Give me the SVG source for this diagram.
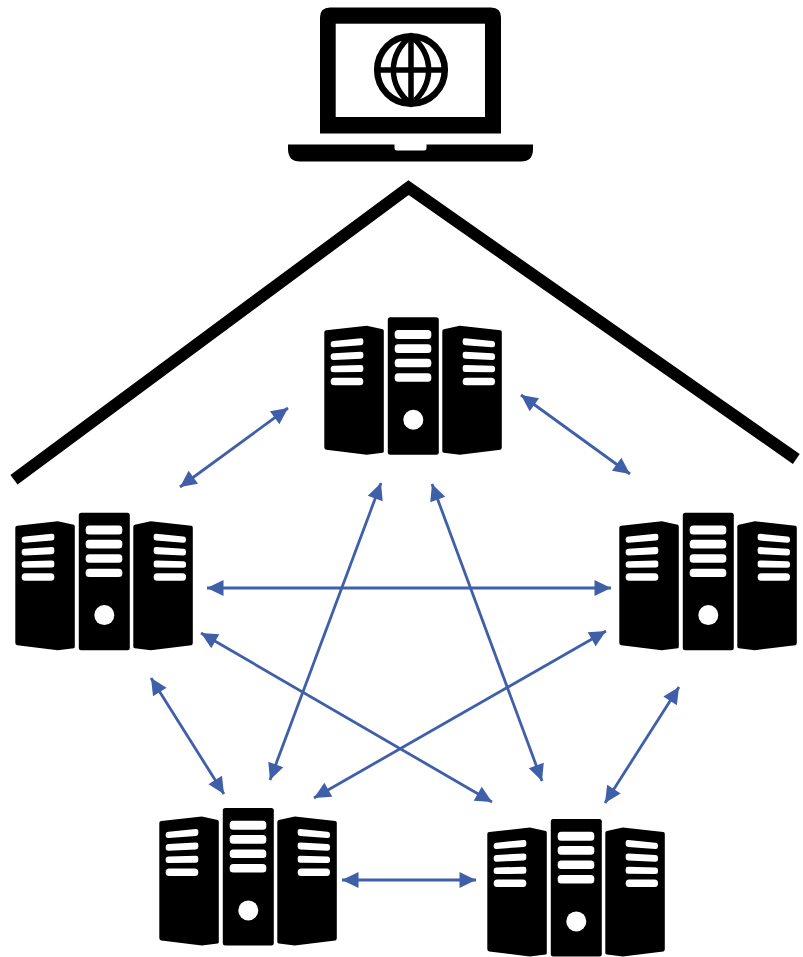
<svg xmlns="http://www.w3.org/2000/svg" width="803" height="957" viewBox="0 0 803 957">
<style>
.a{fill:none;stroke:#3f5fa8;stroke-width:2.8;marker-start:url(#s);marker-end:url(#e)}
.k{fill:#000}
.w{fill:#fff}
.t{fill:none;stroke:#000;stroke-width:12;stroke-linejoin:miter;stroke-miterlimit:10}
.g{fill:none;stroke:#000;stroke-width:5.500}
.o{stroke-width:6.500}
</style>
<defs>
<marker id="e" markerUnits="userSpaceOnUse" markerWidth="18" markerHeight="18" refX="17" refY="9" orient="auto"><path d="M0.500 1L17 9L0.500 17Z" fill="#3f5fa8"/></marker>
<marker id="s" markerUnits="userSpaceOnUse" markerWidth="18" markerHeight="18" refX="1" refY="9" orient="auto"><path d="M17.500 1L1 9L17.500 17Z" fill="#3f5fa8"/></marker>
<g id="srv">
<path class="k" d="M2 13L42.500 8.500L58.500 12Q59.500 12.500 59.500 14V134Q59.500 135 58.500 135.500L42.500 137.500L2 132.500Q0 132 0 130V15Q0 13 2 13Z"/>
<rect class="k" x="63.500" y="0" width="51" height="137.500" rx="2.500"/>
<path class="k" d="M176 13L135.500 8.500L119.500 12Q118 12.500 118 14V134Q118 135 119.500 135.500L135.500 137.500L176 132.500Q177.500 132 177.500 130V15Q177.500 13 176 13Z"/>
<g class="w">
<rect x="70.400" y="12.700" width="36.600" height="9" rx="3.500"/>
<rect x="70.400" y="27" width="36.600" height="8.700" rx="3.500"/>
<rect x="70.400" y="41.500" width="36.600" height="8.500" rx="3.500"/>
<rect x="70.400" y="56" width="36.600" height="8.400" rx="3.500"/>
<circle cx="89" cy="102.400" r="10"/>
<path d="M9.400 23.700L36.500 21Q39 20.800 39 23V25.500Q39 27.700 36.500 27.900L9.400 30Q6.400 30.200 6.400 27.500V26.500Q6.400 24 9.400 23.700Z"/>
<path d="M9.400 36L36.500 34.400Q39 34.300 39 36.500V39Q39 41.300 36.500 41.500L9.400 42.700Q6.400 42.800 6.400 40V39Q6.400 36.200 9.400 36Z"/>
<path d="M9.400 48.500L36.500 47.700Q39 47.600 39 50V52.500Q39 54.700 36.500 54.800L9.400 55Q6.400 55 6.400 52.500V51Q6.400 48.600 9.400 48.500Z"/>
<rect x="6.400" y="60.500" width="32.600" height="7.500" rx="3.500"/>
<path d="M168 23.700L140.900 21Q138.400 20.800 138.400 23V25.500Q138.400 27.700 140.900 27.900L168 30Q170.700 30.200 170.700 27.500V26.500Q170.700 24 168 23.700Z"/>
<path d="M168 36L140.900 34.400Q138.400 34.300 138.400 36.500V39Q138.400 41.300 140.900 41.500L168 42.700Q170.700 42.800 170.700 40V39Q170.700 36.200 168 36Z"/>
<path d="M168 48.500L140.900 47.700Q138.400 47.600 138.400 50V52.500Q138.400 54.700 140.900 54.800L168 55Q170.700 55 170.700 52.500V51Q170.700 48.600 168 48.500Z"/>
<rect x="138.400" y="60.500" width="32.300" height="7.500" rx="3.500"/>
</g>
</g>
</defs>
<rect width="803" height="957" fill="#fff"/>
<g id="laptop">
<path class="k" d="M330 7.500H491Q501 7.500 501 17.500V133.500H320V17.500Q320 7.500 330 7.500Z"/>
<rect class="w" x="335.700" y="23.700" width="149.300" height="93.300"/>
<path class="k" d="M288 144.500H394.500V148Q394.500 150.500 397 150.500H424Q426.500 150.500 426.500 148V144.500H533V149Q533 161.500 521 161.500H300Q288 161.500 288 149Z"/>
<g class="g">
<circle class="o" cx="411" cy="70" r="33.800"/>
<path d="M411 36C387.500 55 387.500 85 411 104C434.500 85 434.500 55 411 36Z"/>
<path d="M411 36V104M377 70H445"/>
</g>
</g>
<g id="uplink">
<path class="t" d="M14 479.700L408.500 187.700L796.300 459"/>
</g>
<use id="server-top" href="#srv" x="324.300" y="317.300"/>
<use id="server-left" href="#srv" x="15.300" y="512.700"/>
<use id="server-right" href="#srv" x="619.300" y="512.700"/>
<use id="server-bottom-left" href="#srv" x="159.300" y="808"/>
<use id="server-bottom-right" href="#srv" x="487.300" y="819"/>
<g id="connectors">
<path class="a" d="M288 408L180 487"/>
<path class="a" d="M521 395L630 474"/>
<path class="a" d="M381 483L270 780"/>
<path class="a" d="M432 484L542 781"/>
<path class="a" d="M207 588H611"/>
<path class="a" d="M201 633L492 802"/>
<path class="a" d="M606 631L314 798"/>
<path class="a" d="M151 678L224 794"/>
<path class="a" d="M679 687L605 803"/>
<path class="a" d="M342 880H476"/>
</g>
</svg>
